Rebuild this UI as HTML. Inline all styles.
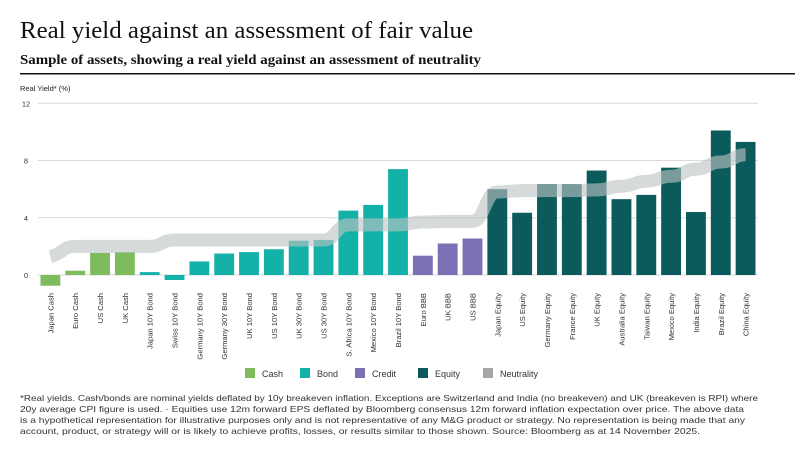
<!DOCTYPE html>
<html><head><meta charset="utf-8"><style>
body{margin:0;background:#fff;width:795px;height:458px;overflow:hidden;font-family:"Liberation Sans",sans-serif}
svg{display:block}
</style></head><body>
<svg id="chart" width="795" height="458" xmlns="http://www.w3.org/2000/svg">
<text x="20" y="38" font-family="Liberation Serif,serif" font-size="24" fill="#111" textLength="453" lengthAdjust="spacingAndGlyphs">Real yield against an assessment of fair value</text>
<text x="20" y="64" font-family="Liberation Serif,serif" font-weight="bold" font-size="14" fill="#111" textLength="461" lengthAdjust="spacingAndGlyphs">Sample of assets, showing a real yield against an assessment of neutrality</text>
<rect x="20" y="73" width="775" height="1.5" fill="#111"/>
<text x="20" y="91" font-size="7.5" fill="#222">Real Yield* (%)</text>
<g id="grid"></g><g id="bars"></g><g id="band"></g><g id="labels"></g>
<g id="legend"></g>
<g font-size="8.4" fill="#333">
<text x="20" y="401" textLength="738" lengthAdjust="spacingAndGlyphs">*Real yields. Cash/bonds are nominal yields deflated by 10y breakeven inflation. Exceptions are Switzerland and India (no breakeven) and UK (breakeven is RPI) where</text>
<text x="20" y="412" textLength="724" lengthAdjust="spacingAndGlyphs">20y average CPI figure is used. · Equities use 12m forward EPS deflated by Bloomberg consensus 12m forward inflation expectation over price. The above data</text>
<text x="20" y="423" textLength="725" lengthAdjust="spacingAndGlyphs">is a hypothetical representation for illustrative purposes only and is not representative of any M&amp;G product or strategy. No representation is being made that any</text>
<text x="20" y="434" textLength="680" lengthAdjust="spacingAndGlyphs">account, product, or strategy will or is likely to achieve profits, losses, or results similar to those shown. Source: Bloomberg as at 14 November 2025.</text>
</g>
</svg>
<script>
const categories=["Japan Cash","Euro Cash","US Cash","UK Cash","Japan 10Y Bond","Swiss 10Y Bond","Germany 10Y Bond","Germany 30Y Bond","UK 10Y Bond","US 10Y Bond","UK 30Y Bond","US 30Y Bond","S. Africa 10Y Bond","Mexico 10Y Bond","Brazil 10Y Bond","Euro BBB","UK BBB","US BBB","Japan Equity","US Equity","Germany Equity","France Equity","UK Equity","Australia Equity","Taiwan Equity","Mexico Equity","India Equity","Brazil Equity","China Equity"];
const groups=["Cash","Cash","Cash","Cash","Bond","Bond","Bond","Bond","Bond","Bond","Bond","Bond","Bond","Bond","Bond","Credit","Credit","Credit","Equity","Equity","Equity","Equity","Equity","Equity","Equity","Equity","Equity","Equity","Equity"];
const realYield=[-0.75,0.3,1.55,1.6,0.2,-0.35,0.95,1.5,1.6,1.8,2.4,2.45,4.5,4.9,7.4,1.35,2.2,2.55,6.0,4.35,6.35,6.35,7.3,5.3,5.6,7.5,4.4,10.1,9.3];
const neutrality=[1.5,2.0,2.0,2.0,2.0,2.45,2.45,2.45,2.45,2.45,2.45,2.45,3.5,3.5,3.5,3.7,3.75,3.75,5.8,5.9,5.9,5.9,5.95,6.2,6.55,6.9,7.4,7.9,8.4];
const yTicks=[0,4,8,12];
const legendItems=["Cash","Bond","Credit","Equity","Neutrality"];
const colors={Cash:"#7dbb5c",Bond:"#14b1a9",Credit:"#7b70b4",Equity:"#0b5a5c",Neutrality:"#a6a6a6"};
const NS="http://www.w3.org/2000/svg";
const x0=38,x1=758,step=(x1-x0)/categories.length,bw=step*0.8;
const yv=v=>275-v*(275-103.3)/12;
const xc=i=>x0+step*(i+0.5);
function mk(t,a,p){const e=document.createElementNS(NS,t);for(const k in a)e.setAttribute(k,a[k]);p.appendChild(e);return e;}
const grid=document.getElementById('grid');
yTicks.forEach(t=>{
 const l=mk('line',{x1:x0,x2:x1,y1:yv(t),y2:yv(t),stroke:"#d9d9d9","stroke-width":1},grid);
 
 
 const tx=mk('text',{x:x0-12,y:yv(t)+3,"font-size":7.5,fill:"#333","text-anchor":"middle"},grid);
 tx.textContent=t;
 
 
});
const bars=document.getElementById('bars');
realYield.forEach((v,i)=>{
 const r=mk('rect',{x:xc(i)-bw/2,y:Math.min(yv(v),yv(0)),width:bw,height:Math.abs(yv(v)-yv(0)),fill:colors[groups[i]]},bars);
 
 
});
let d="";
neutrality.forEach((v,i)=>{
 const X=xc(i),Y=yv(v);
 if(i===0)d+="M"+X+","+(Y+3);
 else{const px=xc(i-1),py=yv(neutrality[i-1]);const m=(px+X)/2;d+=" C"+m+","+py+" "+m+","+Y+" "+X+","+Y;}
});
const band=mk('path',{d:d,fill:"none",stroke:"rgba(190,196,196,0.62)","stroke-width":13},document.getElementById('band'));


const labels=document.getElementById('labels');
categories.forEach((c,i)=>{
 const t=mk('text',{transform:"translate("+(xc(i)+3)+",293) rotate(-90)","font-size":7.6,fill:"#333","text-anchor":"end"},labels);
 t.textContent=c;
 
 
});
const lg=document.getElementById('legend');
const lx=[245,300,355,418,483];
legendItems.forEach((n,i)=>{
 const r=mk('rect',{x:lx[i],y:368,width:10,height:10,fill:colors[n]},lg);
 
 
 const t=mk('text',{x:lx[i]+17,y:377,"font-size":9,fill:"#333"},lg);
 t.textContent=n;
 
 
});
</script>
</body></html>
